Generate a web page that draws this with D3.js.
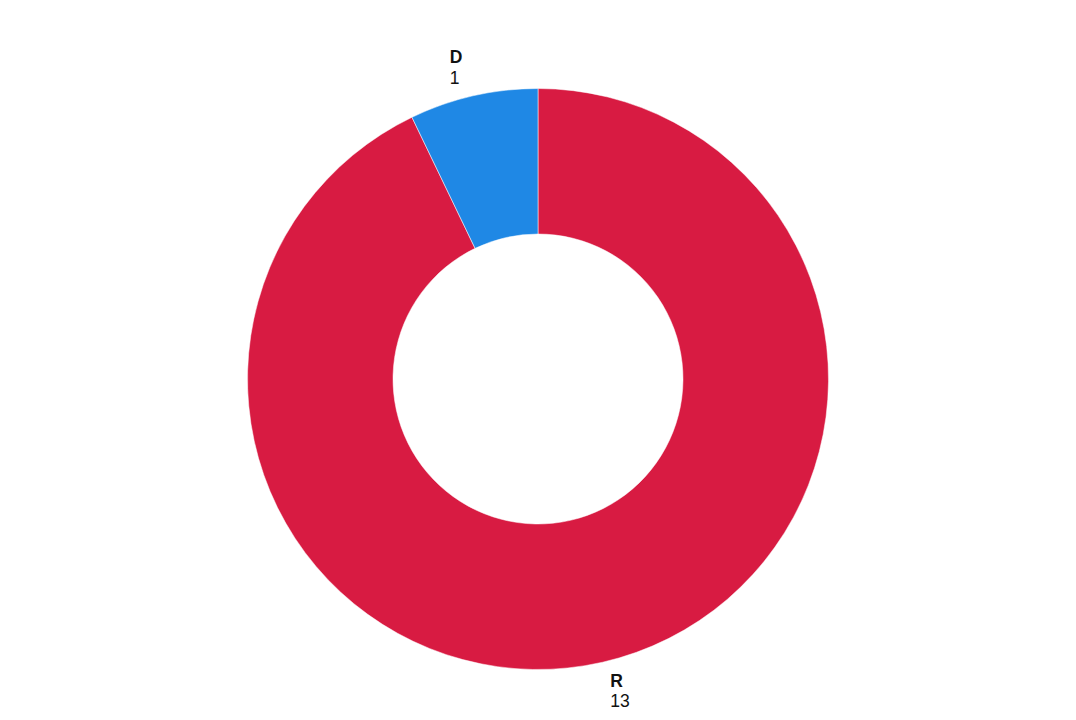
<!DOCTYPE html>
<html><head><meta charset="utf-8">
<script src="https://cdn.jsdelivr.net/npm/d3@7"></script>
<style>body{margin:0;background:#fff}svg{display:block}</style>
</head><body>
<svg id="chart" width="1076" height="720"></svg>
<script>
const categories = ["R", "D"];
const values = [13, 1];
const colors = ["#d81b42", "#1f88e5"];

const W = 1076, H = 720, cx = 538, cy = 379, outerR = 290.5, innerR = 145;
const svg = d3.select("#chart");
const g = svg.append("g").attr("transform", `translate(${cx},${cy})`);
const data = categories.map((c, i) => ({ cat: c, value: values[i], color: colors[i] }));
const pie = d3.pie().sort(null).value(d => d.value);
const arc = d3.arc().innerRadius(innerR).outerRadius(outerR);
const arcs = pie(data);
g.selectAll("path").data(arcs).join("path")
  .attr("d", arc).attr("fill", d => d.data.color)
  .attr("stroke", "#fff").attr("stroke-width", 0.5);

const labelArc = d3.arc().innerRadius(320).outerRadius(320);
const font = "'Liberation Sans', Arial, sans-serif";
arcs.forEach(a => {
  const [x, y] = labelArc.centroid(a);
  const mid = (a.startAngle + a.endAngle) / 2;
  const right = Math.sin(mid) >= 0;
  const lx = right ? x + 1 : x - 17;
  g.append("text")
    .attr("font-family", font).attr("font-size", 17.5).attr("fill", "#111")
    .attr("font-weight", "bold").attr("x", lx).attr("y", y - 4).text(a.data.cat);
  g.append("text")
    .attr("font-family", font).attr("font-size", 17.5).attr("fill", "#111")
    .attr("x", lx).attr("y", y + 16.5).text(a.data.value);
});
</script>
</body></html>
